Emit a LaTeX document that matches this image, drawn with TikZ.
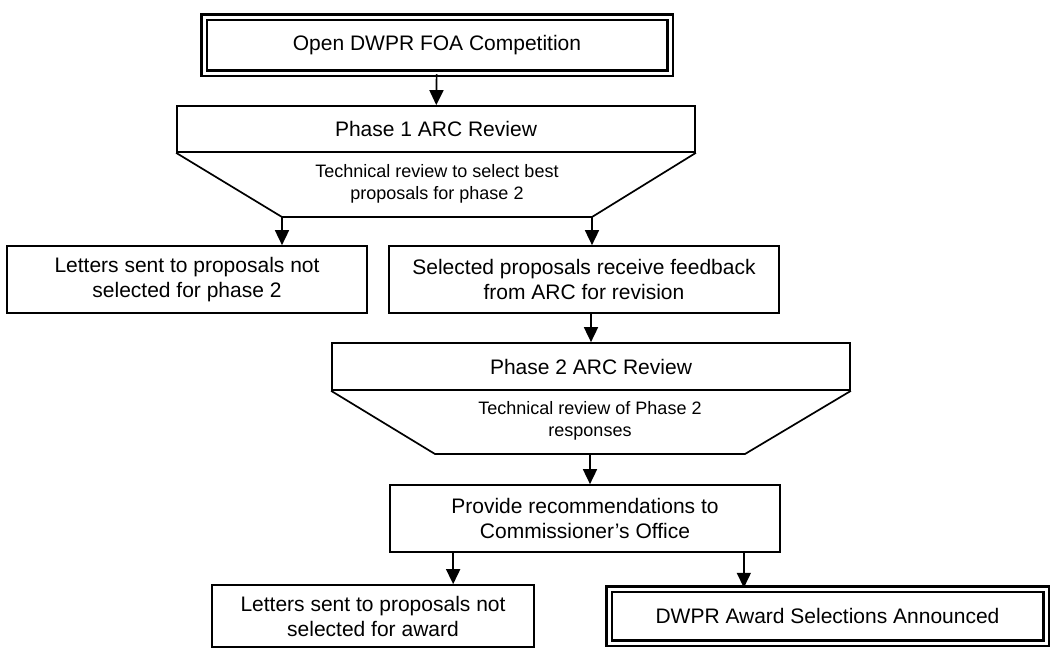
\documentclass[tikz,border=0pt]{standalone}
\usepackage{fontspec}
\setmainfont{Liberation Sans}
\usetikzlibrary{arrows.meta}

\begin{document}
\begin{tikzpicture}[x=1pt,y=-1pt,
        font=\fontsize{21}{25}\selectfont,
        box/.style={draw,line width=1.7pt,inner sep=0pt,align=center,
          minimum height=67pt},
        endbox/.style={draw,double,line width=2.5pt,double distance=3pt,
          inner sep=0pt,align=center},
        note/.style={font=\fontsize{18}{22}\selectfont,align=center},
        edge/.style={line width=1.7pt,line join=miter},
        arr/.style={-{Triangle[length=15pt,width=14pt]},line width=1.7pt}
      ]
        \useasboundingbox (0,0) rectangle (1055,648);
        \node[endbox,minimum width=466pt,minimum height=56pt] (open) at (437,45)
          {Open DWPR FOA Competition};
        \node[box,minimum width=518pt,minimum height=46pt] (phase1) at (436,129)
          {Phase 1 ARC Review};
        \coordinate (cut1l) at (282,217);
        \coordinate (cut1r) at (592,217);
        \draw[edge] (phase1.south west) -- (cut1l) -- (cut1r) -- (phase1.south east);
        \node[note] (note1) at (437,184) {Technical review to select best\\proposals for phase 2};
        \node[box,minimum width=360pt] (lost1) at (187,279.5)
          {Letters sent to proposals not\\selected for phase 2};
        \node[box,minimum width=390pt] (feedback) at (584,279.5)
          {Selected proposals receive feedback\\from ARC for revision};
        \node[box,minimum width=518pt,minimum height=47pt] (phase2) at (591,366.5)
          {Phase 2 ARC Review};
        \coordinate (cut2l) at (435,454);
        \coordinate (cut2m) at (590,454);
        \coordinate (cut2r) at (745,454);
        \draw[edge] (phase2.south west) -- (cut2l) -- (cut2r) -- (phase2.south east);
        \node[note] (note2) at (590,421) {Technical review of Phase 2\\responses};
        \node[box,minimum width=390pt] (recommend) at (585,518.5)
          {Provide recommendations to\\Commissioner's Office};
        \node[box,minimum width=322pt,minimum height=62pt] (lost2) at (373,616)
          {Letters sent to proposals not\\selected for award};
        \node[endbox,minimum width=437pt,minimum height=54pt] (award) at (827.5,616)
          {DWPR Award Selections Announced};
        \draw[arr] (open) -- (phase1);
        \draw[arr] (cut1l) -- (cut1l |- lost1.north);
        \draw[arr] (cut1r) -- (cut1r |- feedback.north);
        \draw[arr] (feedback.south -| phase2) -- (phase2);
        \draw[arr] (cut2m) -- (cut2m |- recommend.north);
        \draw[arr] ([xshift=64pt]recommend.south west) -- ([xshift=64pt]recommend.south west |- lost2.north);
        \draw[arr] ([xshift=-37pt]recommend.south east) -- ([xshift=-37pt]recommend.south east |- award.north);
      \end{tikzpicture}
\end{document}
